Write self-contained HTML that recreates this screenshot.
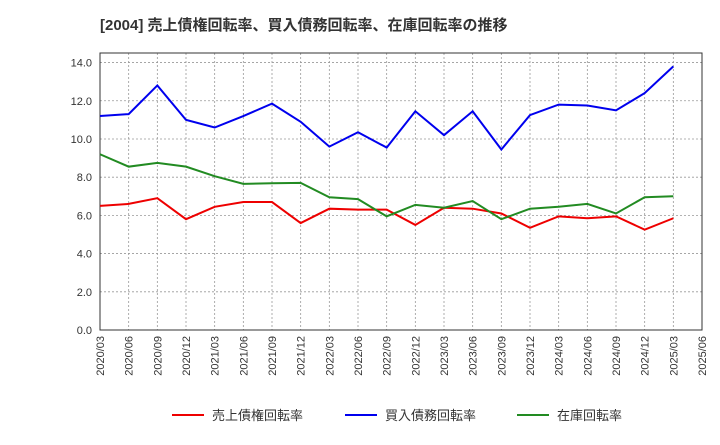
<!DOCTYPE html>
<html><head><meta charset="utf-8"><style>
body{margin:0;background:#fff;font-family:"Liberation Sans","Noto Sans CJK JP",sans-serif;}
</style></head><body>
<svg id="chart" width="720" height="440" xmlns="http://www.w3.org/2000/svg" font-family="Liberation Sans, Noto Sans CJK JP, sans-serif">
<text x="100" y="30" font-size="15" font-weight="bold" fill="#333">[2004]  売上債権回転率、買入債務回転率、在庫回転率の推移</text>
<g id="grid"></g>
<g id="axes"></g>
<g id="series"></g>
<g id="legend"></g>
</svg>
<script>
const xLabels=["2020/03","2020/06","2020/09","2020/12","2021/03","2021/06","2021/09","2021/12","2022/03","2022/06","2022/09","2022/12","2023/03","2023/06","2023/09","2023/12","2024/03","2024/06","2024/09","2024/12","2025/03","2025/06"];
const yTicks=[0,2,4,6,8,10,12,14];
const receivables=[6.5,6.6,6.9,5.8,6.45,6.7,6.7,5.6,6.35,6.3,6.3,5.5,6.4,6.35,6.1,5.35,5.95,5.85,5.95,5.25,5.85];
const payables=[11.2,11.3,12.8,11.0,10.6,11.2,11.85,10.9,9.6,10.35,9.55,11.45,10.2,11.45,9.45,11.25,11.8,11.75,11.5,12.4,13.8];
const inventory=[9.2,8.55,8.75,8.55,8.05,7.65,7.68,7.7,6.95,6.85,5.95,6.55,6.4,6.75,5.8,6.35,6.45,6.6,6.1,6.95,7.0];
const names=["売上債権回転率","買入債務回転率","在庫回転率"];
const colors=["#e00","#00e","#228b22"];
const L=100,R=702,T=53,B=330,yMax=14.5;
const ns="http://www.w3.org/2000/svg";
const xs=i=>L+i*(R-L)/(xLabels.length-1);
const ys=v=>B-v*(B-T)/yMax;
function mk(tag,at,parent){const e=document.createElementNS(ns,tag);for(const k in at)e.setAttribute(k,at[k]);parent.appendChild(e);return e;}
const grid=document.getElementById('grid'),axes=document.getElementById('axes'),ser=document.getElementById('series'),leg=document.getElementById('legend');
yTicks.forEach(v=>{
 const g=mk('line',{x1:L,x2:R,y1:ys(v),y2:ys(v),stroke:'#999','stroke-dasharray':'2,2','stroke-width':0.8},grid);
 
 const t=mk('text',{x:L-8,y:ys(v)+4,'text-anchor':'end','font-size':11,fill:'#333'},axes);
 t.textContent=v.toFixed(1);
});
xLabels.forEach((lab,i)=>{
 const g=mk('line',{x1:xs(i),x2:xs(i),y1:T,y2:B,stroke:'#999','stroke-dasharray':'2,2','stroke-width':0.8},grid);
 
 const t=mk('text',{x:0,y:0,'text-anchor':'end','font-size':11,fill:'#333',transform:`translate(${xs(i)+4},${B+6}) rotate(-90)`},axes);
 t.textContent=lab;
});
const fr=mk('rect',{x:L,y:T,width:R-L,height:B-T,fill:'none',stroke:'#333','stroke-width':1},axes);

[receivables,payables,inventory].forEach((d,k)=>{
 const p=mk('polyline',{points:d.map((v,i)=>xs(i)+','+ys(v)).join(' '),fill:'none',stroke:colors[k],'stroke-width':2},ser);
 
});
const lx=[172,345,517];
names.forEach((n,k)=>{
 const ln=mk('line',{x1:lx[k],x2:lx[k]+32,y1:415,y2:415,stroke:colors[k],'stroke-width':2},leg);
 
 const t=mk('text',{x:lx[k]+40,y:420,'font-size':13,fill:'#333'},leg);
 t.textContent=n;
});
</script>
</body></html>
